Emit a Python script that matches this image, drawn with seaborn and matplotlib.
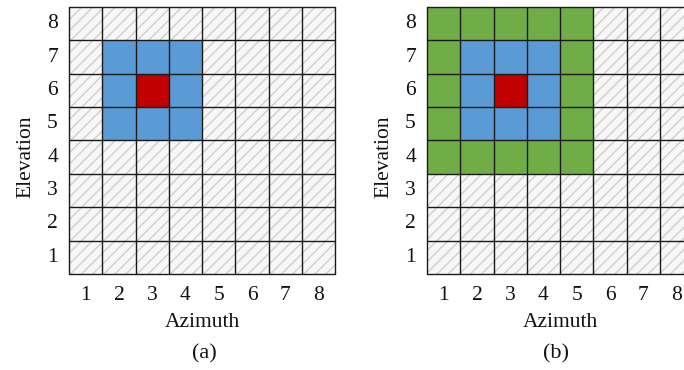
import matplotlib
matplotlib.use("Agg")
import matplotlib.pyplot as plt
import numpy as np
import seaborn as sns
from matplotlib.colors import ListedColormap
from matplotlib.patches import Rectangle

# Axis labels
azimuth = [1, 2, 3, 4, 5, 6, 7, 8]
elevation = [8, 7, 6, 5, 4, 3, 2, 1]   # top row first

# Cell classes: 0 empty, 1 first-ring neighbour, 2 target cell, 3 second-ring neighbour
grid_a = [
    [0, 0, 0, 0, 0, 0, 0, 0],
    [0, 1, 1, 1, 0, 0, 0, 0],
    [0, 1, 2, 1, 0, 0, 0, 0],
    [0, 1, 1, 1, 0, 0, 0, 0],
    [0, 0, 0, 0, 0, 0, 0, 0],
    [0, 0, 0, 0, 0, 0, 0, 0],
    [0, 0, 0, 0, 0, 0, 0, 0],
    [0, 0, 0, 0, 0, 0, 0, 0],
]
grid_b = [
    [3, 3, 3, 3, 3, 0, 0, 0],
    [3, 1, 1, 1, 3, 0, 0, 0],
    [3, 1, 2, 1, 3, 0, 0, 0],
    [3, 1, 1, 1, 3, 0, 0, 0],
    [3, 3, 3, 3, 3, 0, 0, 0],
    [0, 0, 0, 0, 0, 0, 0, 0],
    [0, 0, 0, 0, 0, 0, 0, 0],
    [0, 0, 0, 0, 0, 0, 0, 0],
]
captions = ["(a)", "(b)"]

cell_colors = ListedColormap(["#5b9bd5", "#c00000", "#70ad47"])

sns.set_theme(style="white")
plt.rcParams["font.family"] = ["Liberation Serif", "DejaVu Serif"]
plt.rcParams["hatch.linewidth"] = 1.1

fig = plt.figure(figsize=(6.84, 3.70), dpi=100)
positions = [
    [0.1009, 0.2595, 0.389, 0.7216],
    [0.6243, 0.2595, 0.389, 0.7216],
]
caption_x = [0.51, 0.485]
fs = 15.5

for pos, grid, cap, cx in zip(positions, [grid_a, grid_b], captions, caption_x):
    ax = fig.add_axes(pos)
    data = np.array(grid, dtype=float)
    mask = data == 0

    # hatched background for the empty cells
    ax.patch.set_visible(False)
    bg = Rectangle((0, 0), 1, 1, transform=ax.transAxes, facecolor="#f7f7f7",
                   edgecolor="#d2d2d2", hatch="///", linewidth=0, zorder=0)
    ax.add_patch(bg)

    sns.heatmap(data, mask=mask, cmap=cell_colors, vmin=0.5, vmax=3.5,
                cbar=False, ax=ax, xticklabels=azimuth, yticklabels=elevation,
                square=False)
    n_rows, n_cols = data.shape
    for k in range(n_cols + 1):
        ax.axvline(k, color="#1a1a1a", linewidth=1.0, clip_on=False, zorder=3)
    for k in range(n_rows + 1):
        ax.axhline(k, color="#1a1a1a", linewidth=1.0, clip_on=False, zorder=3)

    ax.tick_params(axis="both", length=0, labelsize=fs, colors="#111111")
    ax.tick_params(axis="x", pad=9, rotation=0)
    ax.tick_params(axis="y", pad=8, rotation=0)
    ax.set_xlabel("Azimuth", fontsize=fs, color="#111111")
    ax.set_ylabel("Elevation", fontsize=fs, color="#111111")
    ax.xaxis.set_label_coords(0.5, -0.148)
    ax.yaxis.set_label_coords(-0.125, 0.44)
    ax.text(cx, -0.30, cap, transform=ax.transAxes, ha="center", va="center",
            fontsize=16, color="#111111")

fig.savefig("out.png", dpi=100)
